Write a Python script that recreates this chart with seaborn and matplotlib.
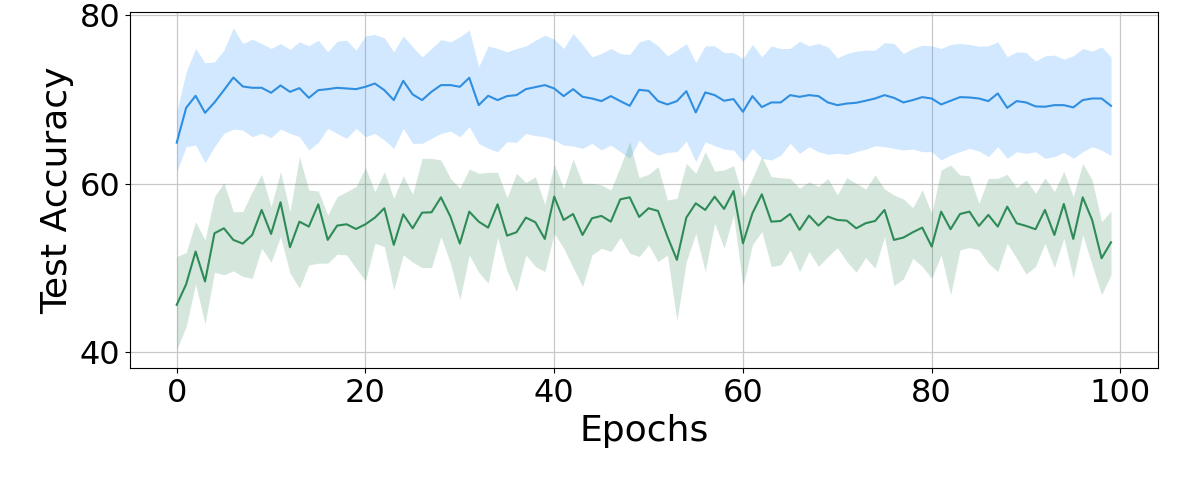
import numpy as np
import pandas as pd
import matplotlib
matplotlib.use("Agg")
import matplotlib.pyplot as plt
import seaborn as sns

epochs = list(range(100))

blue_mean = [64.86, 69.0, 70.43, 68.41, 69.64, 71.1, 72.6, 71.54, 71.38, 71.38, 70.79, 71.66, 70.9, 71.34, 70.19, 71.1, 71.22,
             71.38, 71.3, 71.22, 71.5, 71.89, 71.1, 69.92, 72.21, 70.59, 69.92, 70.91, 71.7, 71.7, 71.5, 72.57, 69.32, 70.43,
             69.92, 70.39, 70.51, 71.22, 71.46, 71.7, 71.3, 70.39, 71.22, 70.31, 70.11, 69.8, 70.39, 69.8, 69.24, 71.14, 71.02, 69.8,
             69.4, 69.8, 70.98, 68.45, 70.83, 70.51, 69.84, 70.04, 68.53, 70.39, 69.09, 69.64, 69.64, 70.51, 70.31, 70.51, 70.39, 69.64,
             69.32, 69.51, 69.6, 69.84, 70.11, 70.51, 70.19, 69.64, 69.92, 70.27, 70.11, 69.4, 69.84, 70.27, 70.23, 70.11, 69.8,
             70.71, 69.0, 69.8, 69.64, 69.17, 69.13, 69.32, 69.32, 69.05, 69.92, 70.11, 70.11, 69.24]
blue_upper = [68.53, 73.28, 76.05, 74.35, 74.46, 75.85, 78.5, 76.64, 77.15, 76.64, 76.05, 76.64, 75.93, 76.84, 76.36, 77.03, 75.65,
              76.92, 77.03, 75.85, 77.55, 77.71, 77.31, 75.65, 77.55, 76.24, 75.06, 76.05, 77.11, 76.84, 77.43, 78.22, 73.87, 76.36,
              76.05, 75.65, 76.05, 76.36, 77.03, 77.63, 77.15, 76.05, 77.83, 76.52, 75.06, 75.45, 76.05, 75.45, 75.33, 76.84, 77.15, 76.36,
              75.18, 75.85, 76.64, 74.39, 76.36, 76.36, 75.57, 75.57, 74.86, 76.52, 75.06, 76.36, 76.05, 76.05, 76.92, 76.36, 76.64, 76.24,
              74.94, 75.45, 75.73, 75.85, 75.85, 76.76, 76.64, 75.45, 76.05, 76.44, 76.36, 76.05, 76.52, 76.64, 76.52, 76.32, 76.36,
              76.84, 75.06, 75.65, 75.57, 74.54, 75.18, 75.26, 74.78, 75.18, 76.05, 75.73, 76.24, 75.06]
blue_lower = [61.42, 64.38, 64.58, 62.48, 64.38, 65.96, 66.48, 66.36, 65.57, 65.96, 65.45, 66.48, 65.96, 65.57, 63.99, 64.9, 66.56,
              65.96, 65.37, 66.56, 65.57, 65.96, 65.17, 64.18, 66.56, 64.78, 64.78, 65.37, 65.96, 66.24, 65.57, 66.75, 64.78, 64.18,
              63.79, 64.97, 64.9, 65.96, 65.69, 65.57, 65.17, 64.58, 64.46, 64.18, 64.78, 63.99, 64.58, 63.79, 63.0, 65.17, 63.99, 63.39,
              63.71, 63.79, 65.05, 62.6, 64.97, 64.5, 64.1, 63.99, 62.6, 64.18, 63.0, 62.8, 63.39, 64.78, 63.59, 64.38, 63.79, 63.47,
              63.59, 63.47, 63.79, 64.1, 64.5, 64.38, 64.18, 63.99, 64.1, 63.79, 63.79, 62.8, 63.39, 63.79, 64.18, 63.87, 63.2,
              64.38, 63.0, 63.79, 63.59, 63.79, 63.0, 63.2, 63.71, 63.0, 63.79, 64.38, 63.99, 63.31]

green_mean = [45.6, 48.05, 51.93, 48.37, 54.1, 54.69, 53.31, 52.87, 53.9, 56.87, 54.02, 57.78, 52.44, 55.48, 54.89, 57.54, 53.31,
              55.01, 55.17, 54.61, 55.17, 55.96, 57.07, 52.72, 56.35, 54.69, 56.55, 56.59, 58.37, 56.08, 52.87, 56.67, 55.48, 54.77,
              57.54, 53.82, 54.22, 55.96, 55.41, 53.43, 58.45, 55.68, 56.39, 53.9, 55.88, 56.16, 55.48, 58.13, 58.37, 56.04, 57.07, 56.75,
              53.7, 50.94, 55.96, 57.66, 56.87, 58.45, 56.99, 59.12, 52.91, 56.47, 58.73, 55.48, 55.56, 56.39, 54.5, 56.2, 55.01, 56.08,
              55.68, 55.6, 54.69, 55.29, 55.56, 56.87, 53.31, 53.59, 54.22, 54.77, 52.52, 56.67, 54.58, 56.39, 56.67, 54.97, 56.28,
              54.89, 57.26, 55.29, 54.97, 54.58, 56.87, 53.9, 57.58, 53.43, 58.37, 55.68, 51.13, 53.03]
green_upper = [51.33, 51.81, 55.48, 53.31, 58.45, 60.11, 56.67, 56.67, 59.04, 61.1, 57.26, 61.42, 56.67, 63.2, 59.24, 59.12, 56.28,
               58.45, 59.04, 59.64, 61.89, 59.04, 61.42, 58.25, 60.94, 58.73, 63.0, 63.0, 62.8, 60.62, 59.44, 61.73, 61.22, 61.34,
               61.34, 58.33, 61.22, 60.11, 60.82, 57.54, 62.29, 59.44, 62.92, 60.03, 60.03, 59.83, 59.24, 62.01, 64.97, 60.7, 61.1, 62.01,
               58.05, 58.25, 62.4, 61.22, 63.79, 61.49, 61.61, 62.13, 58.33, 60.62, 63.2, 60.82, 60.7, 60.62, 59.44, 60.23, 59.64, 60.62,
               58.65, 60.7, 60.03, 59.36, 61.02, 59.36, 58.65, 58.17, 57.15, 59.24, 56.47, 61.61, 62.21, 61.02, 60.94, 57.66, 60.62,
               60.62, 61.1, 59.52, 60.43, 58.85, 60.7, 59.04, 61.49, 58.45, 62.4, 60.43, 55.48, 56.75]
green_lower = [40.26, 43.03, 48.05, 43.31, 49.47, 49.16, 49.63, 48.96, 48.76, 52.32, 50.66, 53.7, 49.36, 47.58, 50.34, 50.54, 50.54,
               51.61, 51.53, 49.95, 48.45, 52.91, 52.52, 47.38, 51.53, 50.66, 50.03, 50.03, 53.7, 50.54, 46.19, 51.53, 49.47, 48.17,
               53.59, 49.63, 47.18, 51.53, 50.15, 49.55, 54.1, 52.32, 50.03, 47.77, 51.53, 52.32, 51.93, 53.59, 51.73, 51.33, 52.72, 50.74,
               51.53, 43.7, 50.74, 54.1, 49.55, 55.29, 52.32, 56.28, 47.77, 52.72, 54.3, 50.15, 50.34, 52.12, 49.55, 51.93, 50.15, 51.33,
               52.4, 50.74, 49.47, 51.21, 49.95, 53.7, 47.89, 48.68, 51.13, 50.15, 48.76, 51.53, 46.79, 52.12, 52.4, 52.12, 50.54,
               49.55, 52.91, 51.13, 49.24, 50.15, 52.91, 50.03, 53.51, 48.76, 53.9, 50.34, 46.79, 49.16]

x_ticks = [0, 20, 40, 60, 80, 100]
y_ticks = [40, 60, 80]

blue_color = "#2f8ee0"
green_color = "#2e8b57"

df = pd.DataFrame({
    "Epochs": epochs * 2,
    "acc": blue_mean + green_mean,
    "series": ["blue"] * 100 + ["green"] * 100,
})

fig = plt.figure(figsize=(11.96, 4.88), dpi=100)
ax = fig.add_axes([0.1087, 0.246, 0.8593, 0.729])

ax.fill_between(epochs, blue_lower, blue_upper, color="dodgerblue", alpha=0.2, linewidth=0)
ax.fill_between(epochs, green_lower, green_upper, color=green_color, alpha=0.2, linewidth=0)
sns.lineplot(data=df, x="Epochs", y="acc", hue="series",
             palette={"blue": blue_color, "green": green_color},
             linewidth=1.5, ax=ax, legend=False)

ax.set_xticks(x_ticks)
ax.set_yticks(y_ticks)
ax.set_xlim(-4.95, 103.95)
ax.set_ylim(38.1, 80.36)
ax.grid(True, color="#c8c8c8", linewidth=0.9)
ax.set_axisbelow(True)
ax.tick_params(labelsize=23)
ax.set_xlabel("Epochs", fontsize=26)
ax.set_ylabel("Test Accuracy", fontsize=26)

fig.savefig("out.png", dpi=100)
